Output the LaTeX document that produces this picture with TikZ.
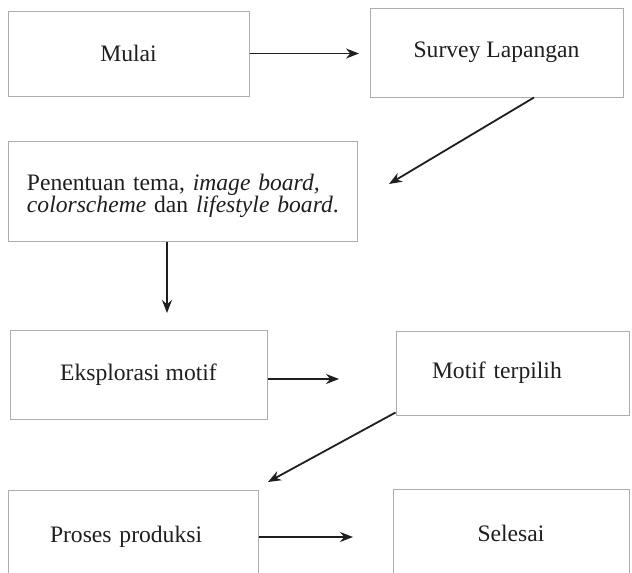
\documentclass[tikz,border=0pt]{standalone}
\usepackage{fontspec}
\setmainfont{Liberation Serif}
\usetikzlibrary{arrows.meta}
\definecolor{boxgray}{gray}{0.68}
\definecolor{ink}{gray}{0.12}
\begin{document}
\begin{tikzpicture}[x=1pt,y=-1pt,
  box/.style={draw=boxgray, line width=1pt, rectangle, inner sep=0pt,
    font=\fontsize{23.6pt}{22pt}\selectfont, text=ink},
  flow/.style={draw=ink, line width=1.8pt, -{Stealth[length=13pt,width=10pt]}}]
\path[use as bounding box, fill=white] (0,0) rectangle (632,573);
\clip (0,0) rectangle (632,573);
\node[box, minimum width=241pt, minimum height=85pt] (mulai) at (128.5,53.5) {Mulai};
\node[box, minimum width=253pt, minimum height=89pt] (survey) at (496.5,52.5) {Survey Lapangan};
\node[box, minimum width=349pt, minimum height=100pt, inner xsep=19pt,
      text width=311pt, align=left] (tema) at (182.5,191)
  {\mbox{\rule{0pt}{27pt}Penentuan tema, \textit{image board,}}\\\mbox{\textit{colorscheme} dan \textit{lifestyle board}.}};
\node[box, minimum width=257pt, minimum height=89pt] (eks) at (138.5,374.5) {Eksplorasi motif};
\node[box, minimum width=233pt, minimum height=84pt, inner xsep=36pt,
      text width=161pt, align=left] (motif) at (512.5,373) {Motif terpilih};
\node[box, minimum width=250pt, minimum height=94pt, inner xsep=42pt,
      text width=166pt, align=left] (proses) at (133,537) {Proses produksi};
\node[box, minimum width=236pt, minimum height=88pt] (selesai) at (511,533) {Selesai};
\coordinate (t1) at (359,53.5);
\coordinate (t2) at (389,184);
\coordinate (t3) at (167,313);
\coordinate (t4) at (339,379);
\coordinate (t5) at (268,482);
\coordinate (t6) at (353,537);
\draw[flow] (mulai.east) -- (t1);
\draw[flow] ([xshift=37.5pt]survey.south) -- (t2);
\draw[flow] ([xshift=-15.5pt]tema.south) -- (t3);
\draw[flow] ([yshift=-4.5pt]eks.east) -- (t4);
\draw[flow] ([yshift=3pt]motif.south west) -- (t5);
\draw[flow] (proses.east) -- (t6);
\end{tikzpicture}
\end{document}
